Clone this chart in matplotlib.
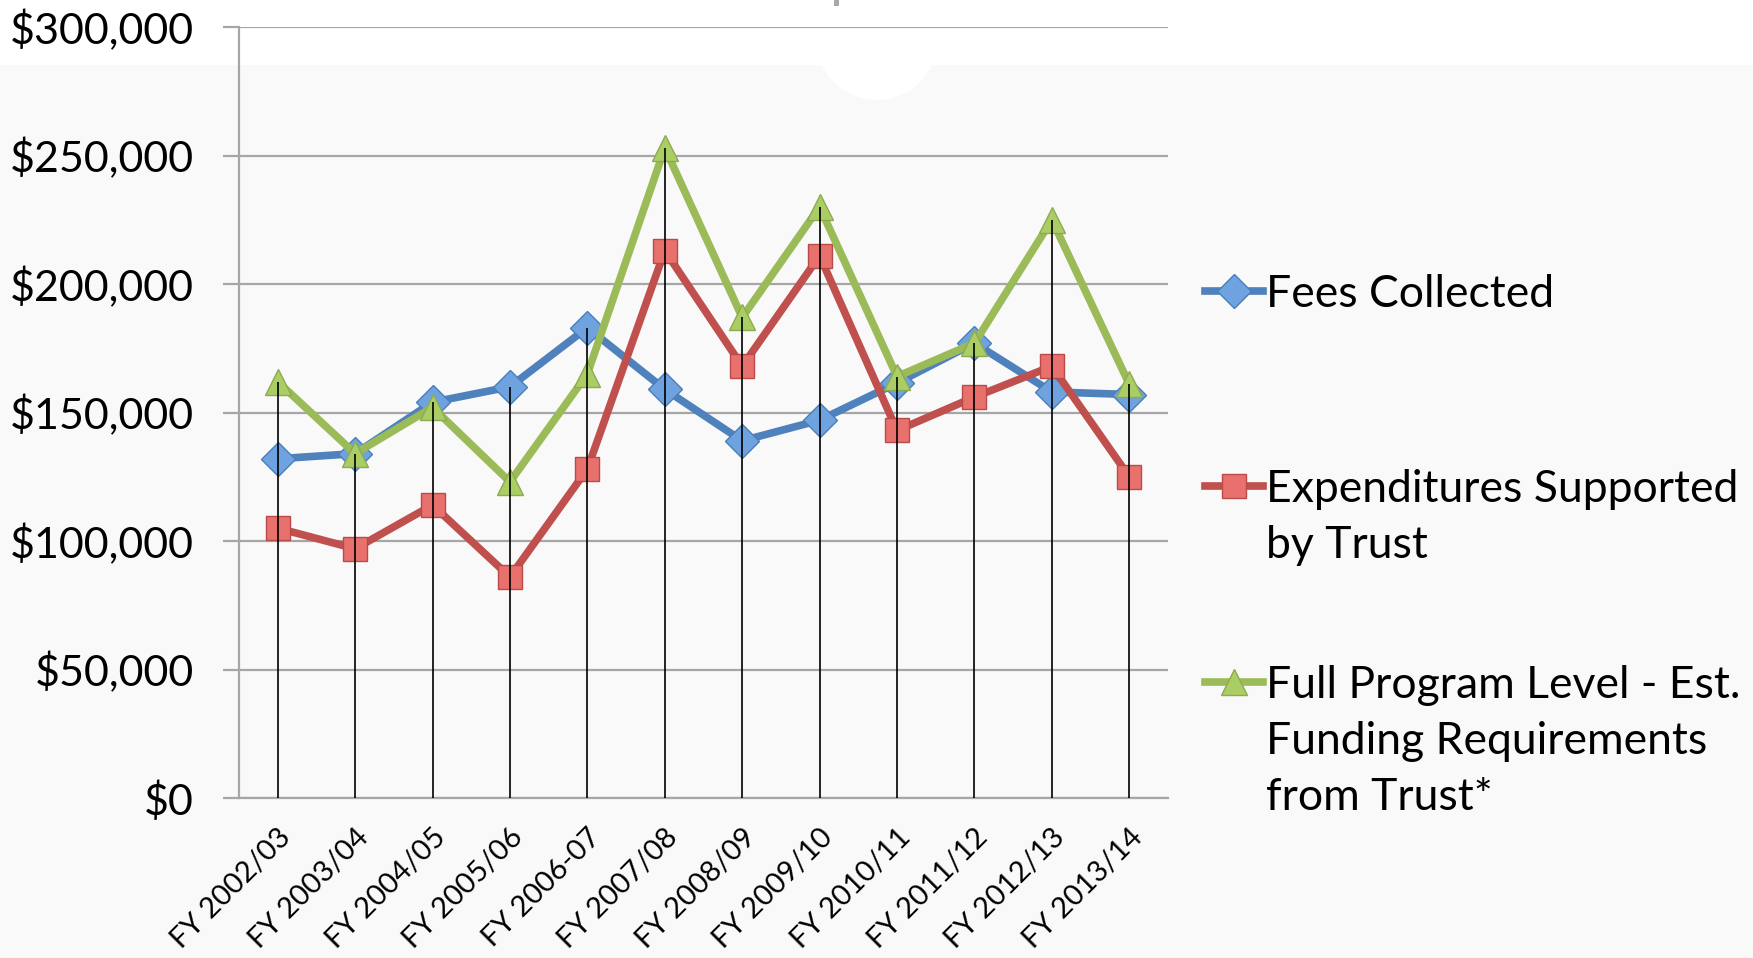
import matplotlib.pyplot as plt
from matplotlib.lines import Line2D
from matplotlib.patches import Rectangle, Ellipse
from matplotlib.transforms import ScaledTranslation
import numpy as np

plt.rcParams['font.family'] = ['Lato', 'DejaVu Sans']

years = ["FY 2002/03", "FY 2003/04", "FY 2004/05", "FY 2005/06", "FY 2006-07",
         "FY 2007/08", "FY 2008/09", "FY 2009/10", "FY 2010/11", "FY 2011/12",
         "FY 2012/13", "FY 2013/14"]
fees = [132000, 134000, 154000, 160000, 183000, 159000, 139000, 147000, 161500, 177000, 158000, 157000]
expenditures = [105000, 97000, 114000, 86000, 128000, 213000, 168000, 211000, 143000, 156000, 168000, 125000]
full_program = [162000, 134000, 152000, 123000, 165000, 253000, 187000, 230000, 164000, 177000, 225000, 161000]

labels = ["Fees Collected",
          "Expenditures Supported\nby Trust",
          "Full Program Level - Est.\nFunding Requirements\nfrom Trust*"]

W, H = 1753, 958
fig = plt.figure(figsize=(W / 100, H / 100), dpi=100, facecolor="#f9f9f9")
# white strip across the top (behind everything)
fig.patches.append(Rectangle((0, 1 - 65 / H), 1, 65 / H, transform=fig.transFigure,
                             facecolor="white", edgecolor="none", zorder=-2))
fig.patches.append(Ellipse((877 / W, 1 - 40 / H), 121 / W, 120 / H, transform=fig.transFigure,
                           facecolor="white", edgecolor="none", zorder=-2))
fig.patches.append(Rectangle((834 / W, 1 - 6 / H), 5 / W, 6 / H, transform=fig.transFigure,
                             facecolor="#a8a8a8", edgecolor="none", zorder=-1))

ax = fig.add_axes([239 / W, 1 - 798 / H, (1168 - 239) / W, (798 - 27) / H])
ax.set_facecolor("none")

x = np.arange(len(years))
styles = [
    dict(color="#4f81bd", marker="D", ms=17, mfc="#6fa3e0", mec="#4a7ebb"),
    dict(color="#c0504d", marker="s", ms=17, mfc="#e8716e", mec="#b84a47"),
    dict(color="#9bbb59", marker="^", ms=19, mfc="#abcd65", mec="#8eaa50"),
]
series = [fees, expenditures, full_program]
for vals, st in zip(series, styles):
    ax.plot(x, vals, lw=5.5, solid_joinstyle="miter", zorder=3, **st)

# drop lines from the top point of each category
tops = np.max(np.array(series), axis=0)
ax.vlines(x, 0, tops, colors="black", lw=1.2, zorder=4)

ax.set_xlim(-0.5, len(years) - 0.5)
ax.set_ylim(0, 300000)
ax.set_yticks(np.arange(0, 300001, 50000))
ax.set_yticklabels(["$" + format(v, ",") for v in range(0, 300001, 50000)])
ax.grid(axis="y", color="#a6a6a6", lw=1.6, zorder=1)
ax.set_axisbelow(True)

for s in ["top", "right"]:
    ax.spines[s].set_visible(False)
ax.spines["left"].set_color("#a6a6a6")
ax.spines["left"].set_linewidth(1.6)
ax.spines["bottom"].set_color("#a6a6a6")
ax.spines["bottom"].set_linewidth(1.6)

ax.tick_params(axis="y", direction="out", length=11.5, width=1.6, color="#a6a6a6",
               labelsize=31, pad=21)
ax.set_xticks(x)
ax.set_xticklabels(years, rotation=45, ha="right", va="top", rotation_mode="anchor")
ax.tick_params(axis="x", length=0, labelsize=21, pad=19)
for lab in ax.get_xticklabels():
    lab.set_transform(lab.get_transform() + ScaledTranslation(0.0, 0, fig.dpi_scale_trans))

# legend drawn by hand so the handle sits on the first line
leg_y = [291, 486, 682]
for st, lab, yy in zip(styles, labels, leg_y):
    fy = 1 - yy / H
    fig.add_artist(Line2D([1205 / W, 1234 / W, 1263 / W], [fy, fy, fy], transform=fig.transFigure,
                          lw=5.5, markevery=[1], **st))
    fig.text(1266 / W, 1 - (yy - 17) / H, lab, fontsize=32, va="top", ha="left",
             linespacing=1.46)

plt.savefig("out.png", dpi=100, facecolor=fig.get_facecolor())
